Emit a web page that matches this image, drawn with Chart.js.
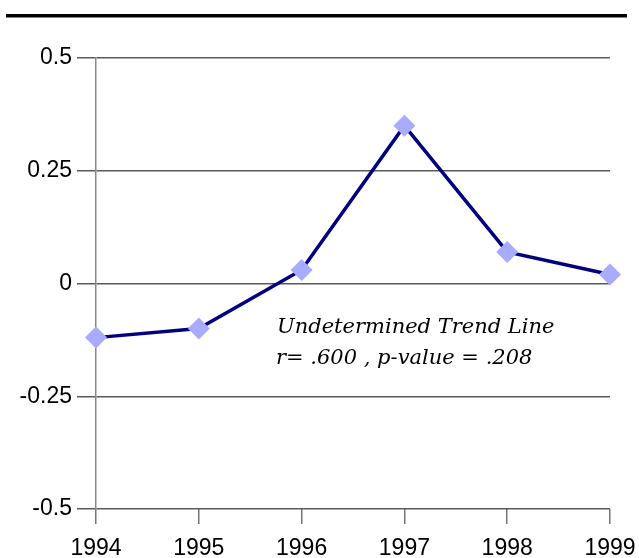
<!DOCTYPE html>
<html>
<head>
<meta charset="utf-8">
<script src="https://cdn.jsdelivr.net/npm/chart.js@4/dist/chart.umd.min.js"></script>
<style>
  html, body { margin: 0; padding: 0; background: #fff; }
  canvas { display: block; }
</style>
</head>
<body>
<canvas id="chart" width="639" height="558"></canvas>
<script>
// data
const years = ['1994', '1995', '1996', '1997', '1998', '1999'];
const values = [-0.12, -0.10, 0.03, 0.35, 0.07, 0.02];
const yTicks = [-0.5, -0.25, 0, 0.25, 0.5];
const noteLines = ['Undetermined Trend Line', 'r= .600 , p-value = .208'];

const LINE_NAVY = '#000080';
const MARKER_FILL = '#a8acff';
const GRID_GREY = '#5a5a5a';

// black rule across the top + italic annotation
const decorations = {
  id: 'decorations',
  beforeDraw(chart) {
    const ctx = chart.ctx;
    ctx.save();
    ctx.fillStyle = '#000';
    ctx.fillRect(6, 14, 621, 3.5);
    ctx.restore();
  },
  afterDatasetsDraw(chart) {
    const ctx = chart.ctx;
    ctx.save();
    ctx.fillStyle = '#000';
    ctx.font = 'italic 21px "DejaVu Serif"';
    ctx.textBaseline = 'alphabetic';
    ctx.fillText(noteLines[0], 277, 333);
    ctx.fillText(noteLines[1], 276, 364);
    ctx.restore();
  }
};

new Chart(document.getElementById('chart').getContext('2d'), {
  type: 'line',
  data: {
    labels: years,
    datasets: [{
      data: values,
      borderColor: LINE_NAVY,
      borderWidth: 3.5,
      tension: 0,
      pointStyle: 'rectRot',
      pointRadius: 11,
      pointBackgroundColor: MARKER_FILL,
      pointBorderWidth: 0,
      clip: false,
    }],
  },
  options: {
    responsive: false,
    animation: false,
    layout: { padding: { top: 58, right: 29, bottom: 0, left: 0 } },
    plugins: { legend: { display: false }, tooltip: { enabled: false } },
    scales: {
      x: {
        type: 'category',
        offset: false,
        grid: { drawOnChartArea: false, drawTicks: true, tickLength: 15, color: '#777', lineWidth: 1.5 },
        border: { display: false },
        ticks: { color: '#000', padding: 11, maxRotation: 0, autoSkip: false,
                 font: { family: '"Liberation Sans", Arial', size: 23 } },
        afterFit(scale) {
          scale.height = 49;
          scale.paddingLeft = 0;
          scale.paddingRight = 0;
        },
      },
      y: {
        min: -0.5,
        max: 0.5,
        afterBuildTicks(scale) {
          scale.ticks = yTicks.map(v => ({ value: v }));
        },
        grid: { color: GRID_GREY, lineWidth: 1.5, tickLength: 19 },
        border: { display: true, color: '#888', width: 1.5 },
        ticks: { color: '#000', padding: 5,
                 font: { family: '"Liberation Sans", Arial', size: 23 },
                 callback: v => String(v) },
        afterFit(scale) {
          scale.width = 96;
          scale.paddingTop = 0;
          scale.paddingBottom = 0;
        },
      },
    },
  },
  plugins: [decorations],
});
</script>
</body>
</html>
